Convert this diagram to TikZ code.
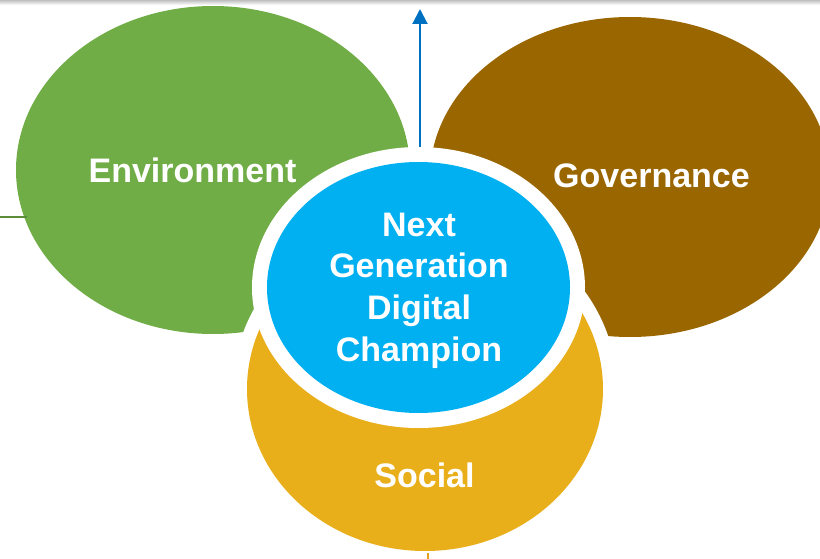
\documentclass[tikz,border=0pt]{standalone}
\usepackage{fontspec}
\setmainfont{Liberation Sans}
\usetikzlibrary{shapes.geometric,arrows.meta}
\definecolor{envgreen}{HTML}{70AD47}
\definecolor{govbrown}{HTML}{996600}
\definecolor{socgold}{HTML}{E9AF1B}
\definecolor{corecyan}{HTML}{00B0F0}
\definecolor{arrowblue}{HTML}{0070C0}
\definecolor{rulegreen}{HTML}{5B8C3A}
\definecolor{tickgold}{HTML}{E8A020}
\begin{document}
\begin{tikzpicture}[x=1pt,y=-1pt,
  blob/.style={ellipse,draw=none,inner sep=0pt,outer sep=0pt},
  lbl/.style={text=white,font=\fontsize{34}{41.7}\selectfont\bfseries,inner sep=0pt},
]
\useasboundingbox (0,0) rectangle (820,559);
% thin shadow along the top edge
\shade[top color=black!25,bottom color=white] (0,0) rectangle (820,5);

% the three outer circles
\node[blob,fill=envgreen,minimum width=394pt,minimum height=328pt] (env) at (213,170) {};
\node[blob,fill=govbrown,minimum width=400pt,minimum height=320pt] (gov) at (630,177) {};
\node[blob,fill=white,minimum width=384pt,minimum height=352pt] (socring) at (425,389) {};
\node[blob,fill=socgold,minimum width=356pt,minimum height=324pt] (soc) at (425,389) {};

% upward arrow and small side rules
\coordinate (arrowfoot) at (420,200);
\coordinate (arrowtip) at (420,9);
\draw[arrowblue,line width=2pt,-{Triangle[width=15pt,length=15pt]}] (arrowfoot) -- (arrowtip);
\coordinate (ruleL) at (0,217);
\coordinate (ruleR) at (27,217);
\draw[rulegreen,line width=1.5pt] (ruleL) -- (ruleR);
\coordinate (tickA) at (428,553);
\coordinate (tickB) at (428,559);
\draw[tickgold,line width=2pt] (tickA) -- (tickB);

% central circle with white ring
\node[blob,fill=white,minimum width=333pt,minimum height=281pt] (corering) at (418.5,287.5) {};
\node[blob,fill=corecyan,minimum width=303pt,minimum height=251pt] (core) at (418.5,287.5) {};

% labels
\node[lbl,anchor=base] (envtxt) at (192.5,183) {Environment};
\node[lbl,anchor=base] (govtxt) at (651.5,187.5) {Governance};
\node[lbl,anchor=base] (soctxt) at (424.5,487) {Social};
\node[lbl,align=center] (coretxt) at (419,290.5) {Next\\Generation\\Digital\\Champion};
\end{tikzpicture}
\end{document}
